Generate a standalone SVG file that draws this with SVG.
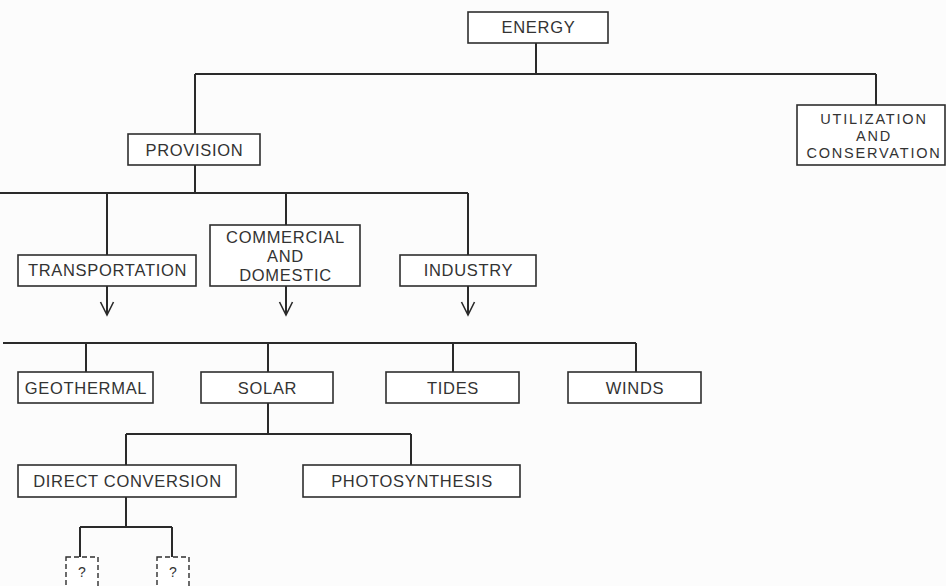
<svg xmlns="http://www.w3.org/2000/svg" width="946" height="586" viewBox="0 0 946 586">
<style>
.box{fill:#ffffff;stroke:#2e2e2e;stroke-width:1.6}
.dash{fill:#ffffff;stroke:#2e2e2e;stroke-width:1.4;stroke-dasharray:5 3}
.lbl{font-family:"Liberation Sans",Arial,Helvetica,sans-serif;font-size:16.5px;letter-spacing:0.7px;fill:#333333;text-anchor:middle}
.sm{font-size:14.5px;letter-spacing:1.8px}
.q{font-family:"Liberation Sans",Arial,Helvetica,sans-serif;font-size:14px;fill:#333333;text-anchor:middle}
.ln{fill:none;stroke:#2a2a2a;stroke-width:2}
</style>
<defs>
<marker id="v" markerUnits="userSpaceOnUse" viewBox="-15 -8 17 16" markerWidth="17" markerHeight="16" refX="0" refY="0" orient="auto" overflow="visible">
<path d="M-13,-6.5 L0,0 L-13,6.5" fill="none" stroke="#2a2a2a" stroke-width="1.6"/>
</marker>
</defs>
<rect width="946" height="586" fill="#fcfcfc"/>
<g id="connectors">
<path class="ln" d="M536,43 V74 M195,74 H876 M195,74 V134 M876,74 V105"/>
<path class="ln" d="M195,165 V193 M0,193 H468 M107,193 V255 M286,193 V225 M468,193 V255"/>
<path class="ln" d="M107,286 V315" marker-end="url(#v)"/>
<path class="ln" d="M286,286 V315" marker-end="url(#v)"/>
<path class="ln" d="M468,286 V315" marker-end="url(#v)"/>
<path class="ln" d="M3,343 H636 M86,343 V372 M268,343 V372 M453,343 V372 M636,343 V372"/>
<path class="ln" d="M268,403 V434 M126,434 H411 M126,434 V465 M411,434 V465"/>
<path class="ln" d="M126,497 V527 M80,527 H172 M80,527 V557 M172,527 V557"/>
</g>
<g id="energy"><rect class="box" x="468" y="12" width="140" height="31"/><text class="lbl" x="538.5" y="33">ENERGY</text></g>
<g id="utilization"><rect class="box" x="797" y="105" width="148" height="60"/><text class="lbl sm" x="874" y="124">UTILIZATION</text><text class="lbl sm" x="874" y="141">AND</text><text class="lbl sm" x="874" y="158">CONSERVATION</text></g>
<g id="provision"><rect class="box" x="128" y="134" width="132" height="31"/><text class="lbl" x="194.5" y="156">PROVISION</text></g>
<g id="transportation"><rect class="box" x="18" y="255" width="178" height="31"/><text class="lbl" x="107.5" y="276">TRANSPORTATION</text></g>
<g id="commercial"><rect class="box" x="210" y="225" width="150" height="61"/><text class="lbl" x="285.5" y="243">COMMERCIAL</text><text class="lbl" x="285.5" y="262">AND</text><text class="lbl" x="285.5" y="281">DOMESTIC</text></g>
<g id="industry"><rect class="box" x="400" y="255" width="136" height="31"/><text class="lbl" x="468.5" y="276">INDUSTRY</text></g>
<g id="geothermal"><rect class="box" x="18" y="372" width="135" height="31"/><text class="lbl" x="86" y="394">GEOTHERMAL</text></g>
<g id="solar"><rect class="box" x="201" y="372" width="132" height="31"/><text class="lbl" x="267.5" y="394">SOLAR</text></g>
<g id="tides"><rect class="box" x="386" y="372" width="133" height="31"/><text class="lbl" x="453" y="394">TIDES</text></g>
<g id="winds"><rect class="box" x="568" y="372" width="133" height="31"/><text class="lbl" x="635" y="394">WINDS</text></g>
<g id="direct"><rect class="box" x="18" y="465" width="218" height="32"/><text class="lbl" x="127.5" y="487">DIRECT CONVERSION</text></g>
<g id="photosynthesis"><rect class="box" x="303" y="465" width="217" height="32"/><text class="lbl" x="412" y="487">PHOTOSYNTHESIS</text></g>
<g id="unknown1"><rect class="dash" x="66" y="557" width="32" height="34"/><text class="q" x="82" y="577">?</text></g>
<g id="unknown2"><rect class="dash" x="157" y="557" width="32" height="34"/><text class="q" x="173" y="577">?</text></g>
</svg>
